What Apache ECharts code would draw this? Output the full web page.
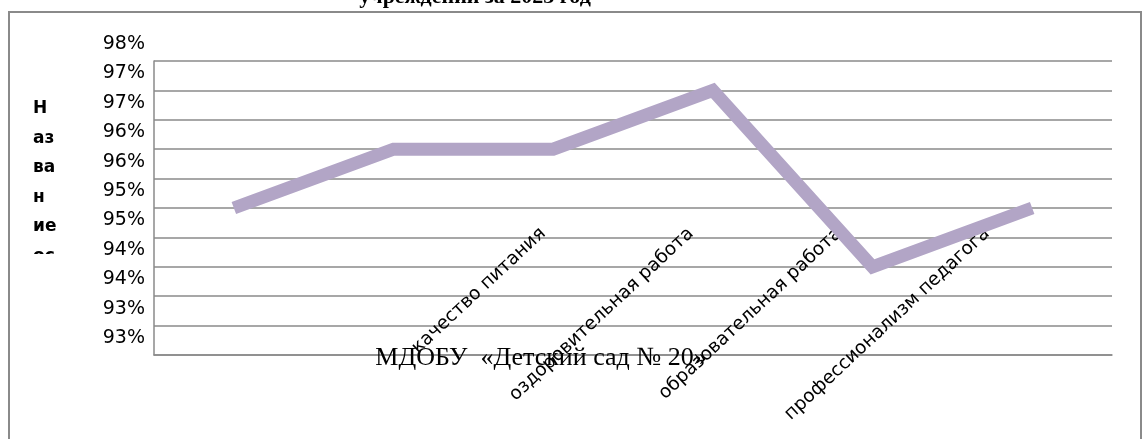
<!DOCTYPE html>
<html>
<head>
<meta charset="utf-8">
<script src="https://cdn.jsdelivr.net/npm/echarts@6/dist/echarts.min.js"></script>
<style>
  html, body { margin: 0; padding: 0; background: #fff; }
  #chart { width: 1143px; height: 439px; }
</style>
</head>
<body>
<div id="chart"></div>
<script>
// данные диаграммы
const categories = ['', '', 'качество питания', 'оздоровительная работа', 'образовательная работа', 'профессионализм педагога']
const values = [95, 96, 96, 97, 94, 95]
const yTickLabels = ['93%', '93%', '94%', '94%', '95%', '95%', '96%', '96%', '97%', '97%', '98%']
const titleText = 'учреждении за 2023 год'
const subText = 'МДОБУ  «Детский сад № 20»'
const yAxisTitle = 'Н\nаз\nва\nн\nие\nос'

const gridColor = '#8a8a8a'
const chart = echarts.init(document.getElementById('chart'))

chart.setOption({
  animation: false,
  grid: [
    { left: 154, right: 31, top: 61, bottom: 84 },
    // подписи категорий в Word стоят с другим шагом, поэтому отдельная сетка
    { left: 173, right: 82, top: 61, bottom: 84 },
    // подписи оси Y сдвинуты вверх относительно линий сетки
    { left: 154, right: 31, top: 44, bottom: 101 }
  ],
  xAxis: [{
    type: 'category',
    data: categories,
    boundaryGap: true,
    axisLine: { lineStyle: { color: gridColor, width: 1.5 } },
    axisTick: { show: false },
    axisLabel: { show: false }
  }, {
    type: 'category',
    gridIndex: 1,
    data: categories,
    boundaryGap: true,
    axisLine: { show: false },
    axisTick: { show: false },
    axisLabel: {
      interval: 0,
      rotate: 43,
      margin: -124,
      color: '#000',
      fontFamily: 'DejaVu Sans',
      fontSize: 18.5
    }
  }, {
    type: 'category',
    gridIndex: 2,
    data: categories,
    show: false
  }],
  yAxis: [{
    type: 'value',
    min: 92.5,
    max: 97.5,
    interval: 0.5,
    axisLine: { show: true, lineStyle: { color: gridColor, width: 1.5 } },
    axisTick: { show: false },
    splitLine: { lineStyle: { color: gridColor, width: 1.5 } },
    axisLabel: { show: false }
  }, {
    type: 'value',
    gridIndex: 1,
    min: 0,
    max: 1,
    show: false
  }, {
    type: 'value',
    gridIndex: 2,
    min: 92.5,
    max: 97.5,
    interval: 0.5,
    axisLine: { show: false },
    axisTick: { show: false },
    splitLine: { show: false },
    axisLabel: {
      margin: 9,
      color: '#000',
      fontFamily: 'DejaVu Sans',
      fontSize: 19,
      showMinLabel: true,
      showMaxLabel: true,
      formatter: (v, i) => yTickLabels[i]
    }
  }],
  series: [{
    type: 'line',
    data: values,
    showSymbol: false,
    symbol: 'none',
    lineStyle: { color: '#b2a5c6', width: 13, join: 'miter' },
    z: 3
  }],
  graphic: [
    {
      type: 'rect',
      shape: { x: 9, y: 12, width: 1132, height: 450 },
      style: { fill: 'none', stroke: '#8a8a8a', lineWidth: 2 },
      z: 1
    },
    {
      type: 'text',
      x: 475, y: 8,
      style: {
        text: titleText,
        font: 'bold 22px "Liberation Serif"',
        fill: '#000',
        align: 'center',
        verticalAlign: 'bottom'
      },
      z: 10
    },
    {
      type: 'text',
      x: 541, y: 358,
      style: {
        text: subText,
        font: '26px "Liberation Serif"',
        fill: '#000',
        align: 'center',
        verticalAlign: 'middle'
      },
      z: 10
    },
    {
      type: 'text',
      x: 33, y: 94,
      style: {
        text: yAxisTitle,
        font: 'bold 17px "DejaVu Sans"',
        lineHeight: 29.5,
        fill: '#000',
        align: 'left',
        verticalAlign: 'top'
      },
      z: 10
    },
    {
      type: 'rect',
      shape: { x: 20, y: 254, width: 60, height: 30 },
      style: { fill: '#fff' },
      z: 11
    }
  ]
})
</script>
</body>
</html>
